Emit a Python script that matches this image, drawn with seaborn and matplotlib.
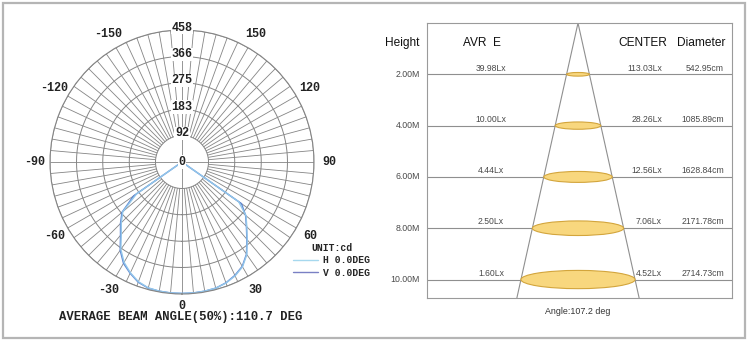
# photometric sheet: polar candela curve + illuminance cone table

import numpy as np
import pandas as pd
import matplotlib.pyplot as plt
import seaborn as sns
from matplotlib.patches import Ellipse, Rectangle
from matplotlib.lines import Line2D

# polar curve, angle in deg (0 = straight down), intensity in cd
angles = [-60, -55, -50, -45, -40, -35, -30, -25, -20, -15, -10, -5, 0,
          5, 10, 15, 20, 25, 30, 35, 40, 45, 50, 55, 60]
h_cd = [0, 192, 268, 298, 328, 370, 402, 424, 442, 452, 455, 456, 456,
        456, 455, 453, 447, 436, 420, 392, 352, 318, 290, 240, 0]
v_cd = [0, 205, 272, 302, 332, 374, 406, 426, 444, 453, 455, 456, 456,
        456, 455, 453, 446, 434, 418, 390, 350, 316, 288, 252, 0]
ring_values = [92, 183, 275, 366, 458]
radial_labels = [0, 92, 183, 275, 366, 458]
angle_labels = [0, 30, 60, 90, 120, 150, -150, -120, -90, -60, -30]
beam_angle = 110.7

# cone table
heights = [2, 4, 6, 8, 10]
avr_e = [39.98, 10.00, 4.44, 2.50, 1.60]
center_e = [113.03, 28.26, 12.56, 7.06, 4.52]
diameter = [542.95, 1085.89, 1628.84, 2171.78, 2714.73]
cone_angle = 107.2

sns.set_theme(style='white')
plt.rcParams['font.family'] = ['Liberation Sans', 'DejaVu Sans']
mono = 'Liberation Mono'
grid_c = '#858585'

W, H = 750, 352
fig = plt.figure(figsize=(7.5, 3.52), dpi=100)

# ---------- left: polar ----------
ax = fig.add_axes([50 / W, 1 - 294 / H, 264 / W, 264 / H], projection='polar')
ax.set_theta_zero_location('S')
ax.set_theta_direction(1)
ax.set_ylim(0, 458)
ax.grid(False)
ax.set_xticks([])
ax.set_yticks([])
ax.spines['polar'].set_color(grid_c)
ax.spines['polar'].set_linewidth(0.8)

spokes = np.deg2rad(np.arange(0, 360, 5))
ax.vlines(spokes, ring_values[0], 458, color=grid_c, lw=0.6)
ax.vlines(np.deg2rad([0, 90, 180, 270]), 0, ring_values[0], color=grid_c, lw=0.6)
t = np.linspace(0, 2 * np.pi, 361)
for r in ring_values:
    ax.plot(t, np.full_like(t, r), color=grid_c, lw=0.7)

df = pd.DataFrame({'theta': np.deg2rad(angles), 'H': h_cd, 'V': v_cd})
sns.lineplot(data=df, x='theta', y='V', ax=ax, sort=False, color='#5f86d2', lw=1.0)
sns.lineplot(data=df, x='theta', y='H', ax=ax, sort=False, color='#92c6ea', lw=1.0)
ax.set_xlabel('')
ax.set_ylabel('')

for a in angle_labels:
    rr = 498 if a == 0 else 512
    ax.text(np.deg2rad(a), rr, str(a), ha='center', va='center', family=mono,
            weight='bold', fontsize=8.5, color='#222222')
for v in radial_labels:
    ax.text(np.pi, v + (8 if v else 0), str(v), ha='center', va='center', family=mono,
            weight='bold', fontsize=8.5, color='#222222',
            bbox=dict(boxstyle='square,pad=0.05', fc='white', ec='none'))

handles = [Line2D([], [], color='#a6d8ee', lw=1.0), Line2D([], [], color='#7a80c4', lw=1.0)]
leg = ax.legend(handles, ['H 0.0DEG', 'V 0.0DEG'], title='UNIT:cd', loc='upper left',
                bbox_to_anchor=(293 / W, 1 - 243 / H), bbox_transform=fig.transFigure,
                frameon=False, borderpad=0, borderaxespad=0, handlelength=2.6,
                handletextpad=0.5, labelspacing=0.25,
                prop={'family': mono, 'weight': 'bold', 'size': 7})
leg.get_title().set_fontfamily(mono)
leg.get_title().set_fontweight('bold')
leg.get_title().set_fontsize(7)

fig.text(181 / W, 1 - 317 / H, f'AVERAGE BEAM ANGLE(50%):{beam_angle} DEG',
         ha='center', va='center', family=mono, weight='bold', fontsize=8.8, color='#222222')

# ---------- right: cone table ----------
cm_px = 23.8
cx = 578
rax = fig.add_axes([427 / W, 1 - 298 / H, 305 / W, 275 / H])
x0, x1 = (427 - cx) * cm_px, (732 - cx) * cm_px
ymax = 10.72
rax.set_xlim(x0, x1)
rax.set_ylim(ymax, 0)
rax.set_xticks([])
rax.set_yticks([])
for s in rax.spines.values():
    s.set_color('#9a9a9a')
    s.set_linewidth(0.8)

rax.hlines(heights, x0, x1, color='#8f8f8f', lw=0.8)
slope = diameter[-1] / 2 / heights[-1]
rax.plot([-slope * ymax, 0, slope * ymax], [ymax, 0, ymax], color='#8f8f8f', lw=0.8)

px_per_m = 275 / ymax
for h, d in zip(heights, diameter):
    eh = d / cm_px * 0.16 / px_per_m
    rax.add_patch(Ellipse((0, h), d, eh, fc='#f8d77e', ec='#d3a53c', lw=0.8, zorder=3))

val_c = '#4a4a4a'
for h, a, c, d in zip(heights, avr_e, center_e, diameter):
    rax.text((420 - cx) * cm_px, h, f'{h:.2f}M', ha='right', va='center', fontsize=6.3, color=val_c)
    rax.text((491 - cx) * cm_px, h - 0.07, f'{a:.2f}Lx', ha='center', va='bottom', fontsize=6.2, color=val_c)
    rax.text((662 - cx) * cm_px, h - 0.07, f'{c:.2f}Lx', ha='right', va='bottom', fontsize=6.2, color=val_c)
    rax.text((724 - cx) * cm_px, h - 0.07, f'{d:.2f}cm', ha='right', va='bottom', fontsize=6.2, color=val_c)

hy = (43 - 23) / px_per_m
rax.text((420 - cx) * cm_px, hy, 'Height', ha='right', va='center', fontsize=8.6, color='#111111')
rax.text((482 - cx) * cm_px, hy, 'AVR  E', ha='center', va='center', fontsize=8.6, color='#111111')
rax.text((643 - cx) * cm_px, hy, 'CENTER', ha='center', va='center', fontsize=8.6, color='#111111')
rax.text((701 - cx) * cm_px, hy, 'Diameter', ha='center', va='center', fontsize=8.6, color='#111111')
rax.text(0, (312 - 23) / px_per_m, f'Angle:{cone_angle} deg', ha='center', va='center',
         fontsize=6.4, color='#333333')

# outer frame
fig.add_artist(Rectangle((3 / W, 14 / H), 742 / W, 335 / H, transform=fig.transFigure,
                         fill=False, ec='#b5b5b5', lw=1.6))

fig.savefig('out.png', dpi=100)
